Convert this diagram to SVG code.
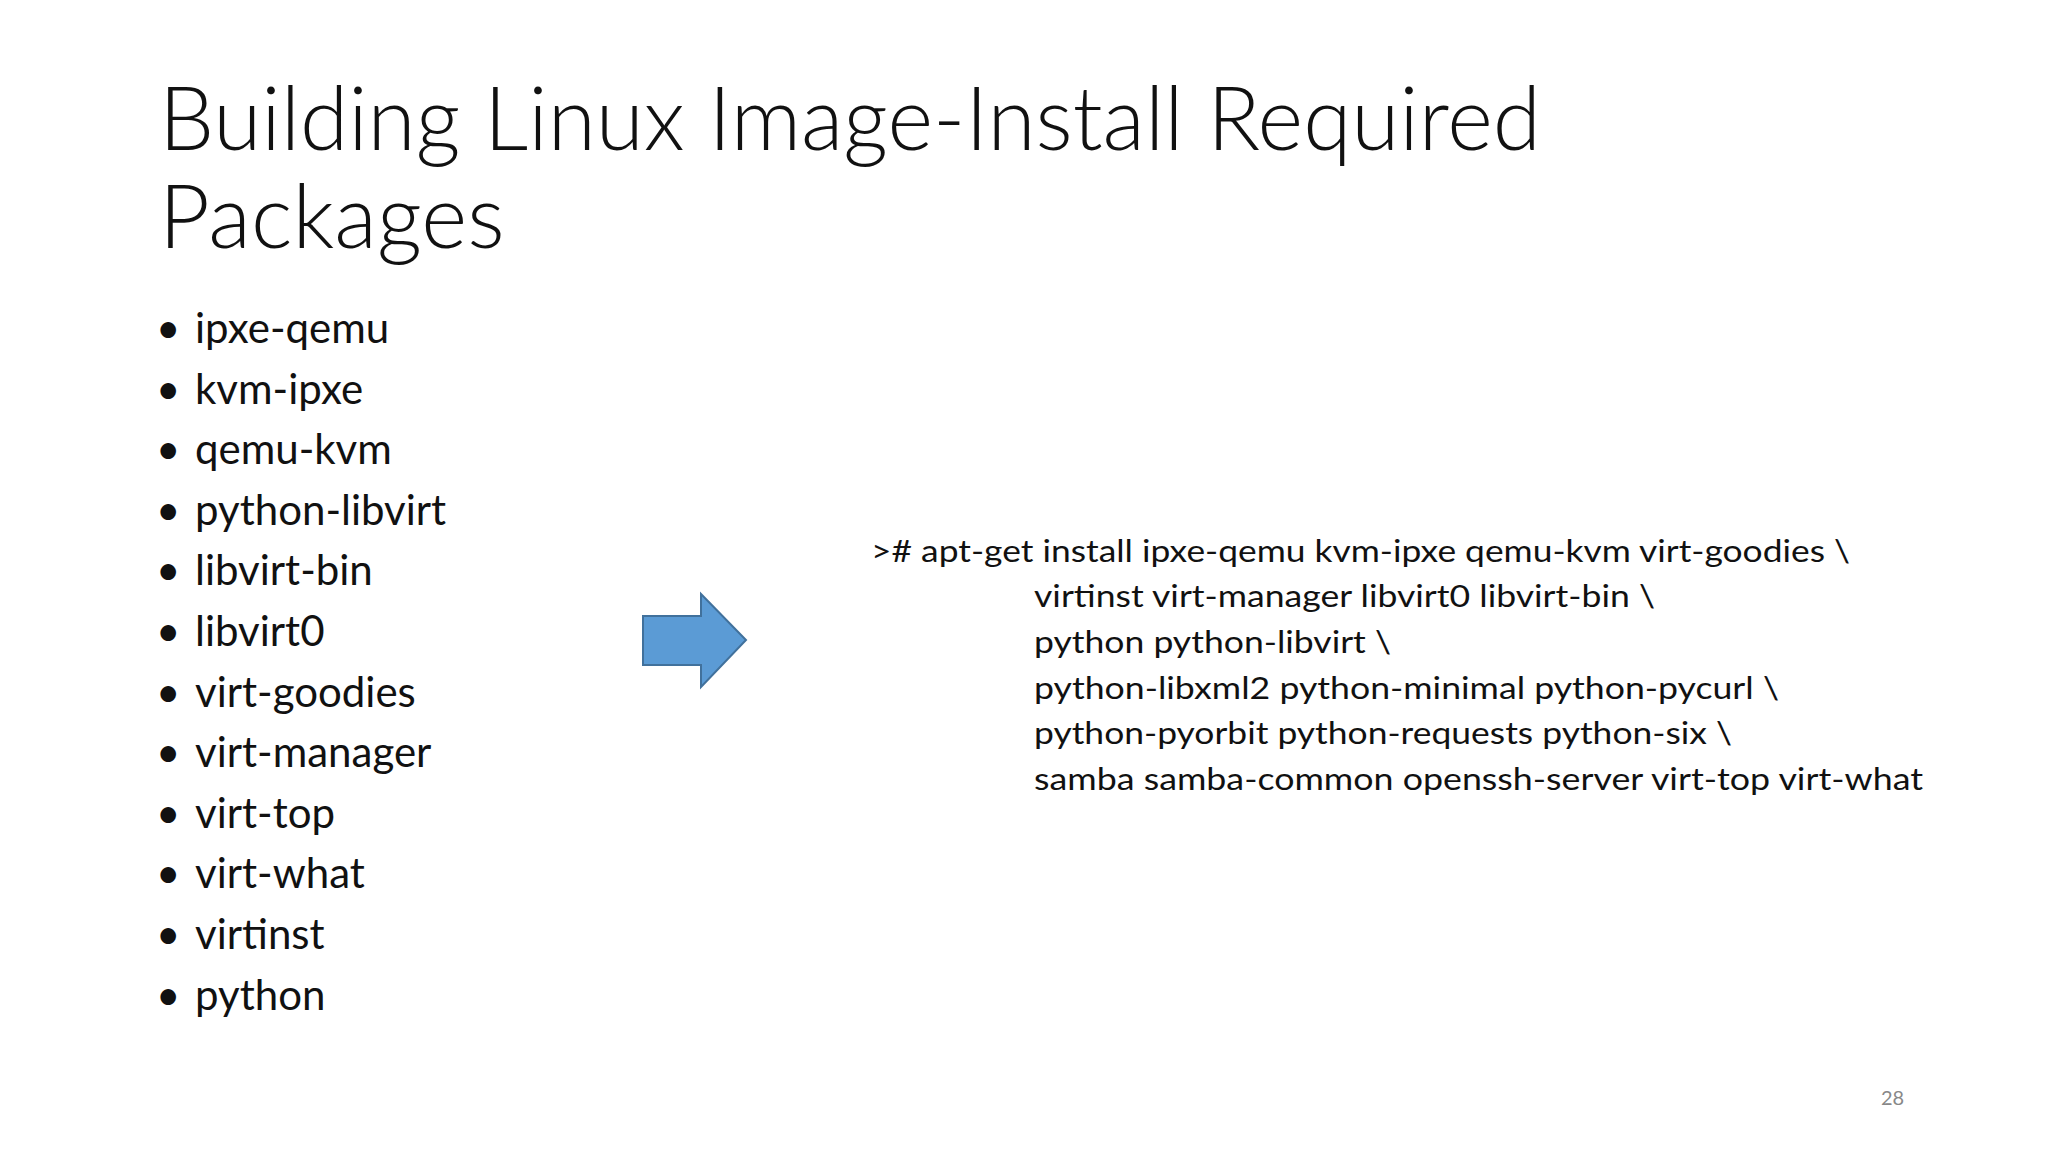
<svg xmlns="http://www.w3.org/2000/svg" width="2048" height="1152" viewBox="0 0 2048 1152">
<style>
text{font-family:Lato,"Open Sans","Liberation Sans",sans-serif;fill:#111}
.t{font-size:88px;font-weight:300}
.b{font-size:42px}
.c{font-size:31px}
</style>
<rect width="2048" height="1152" fill="#fff"/>
<g id="title">
<text class="t" x="159" y="150" textLength="1382" lengthAdjust="spacingAndGlyphs">Building Linux Image-Install Required</text>
<text class="t" x="159" y="248">Packages</text>
</g>
<g id="list" class="b">
<text x="156" y="343">•</text><text x="195" y="343">ipxe-qemu</text>
<text x="156" y="404">•</text><text x="195" y="404">kvm-ipxe</text>
<text x="156" y="464">•</text><text x="195" y="464">qemu-kvm</text>
<text x="156" y="525">•</text><text x="195" y="525">python-libvirt</text>
<text x="156" y="585">•</text><text x="195" y="585">libvirt-bin</text>
<text x="156" y="646">•</text><text x="195" y="646">libvirt0</text>
<text x="156" y="707">•</text><text x="195" y="707">virt-goodies</text>
<text x="156" y="767">•</text><text x="195" y="767">virt-manager</text>
<text x="156" y="828">•</text><text x="195" y="828">virt-top</text>
<text x="156" y="888">•</text><text x="195" y="888">virt-what</text>
<text x="156" y="949">•</text><text x="195" y="949">virtinst</text>
<text x="156" y="1010">•</text><text x="195" y="1010">python</text>
</g>
<g id="arrow">
<polygon points="643,616 701,616 701,594 746,640 701,687 701,665 643,665" fill="#5b9bd5" stroke="#41719c" stroke-width="2"/>
</g>
<g id="command" class="c">
<text x="871" y="562" textLength="979" lengthAdjust="spacingAndGlyphs">&gt;# apt-get install ipxe-qemu kvm-ipxe qemu-kvm virt-goodies \</text>
<text x="1034" y="607" textLength="621" lengthAdjust="spacingAndGlyphs">virtinst virt-manager libvirt0 libvirt-bin \</text>
<text x="1034" y="653" textLength="357" lengthAdjust="spacingAndGlyphs">python python-libvirt \</text>
<text x="1034" y="699" textLength="745" lengthAdjust="spacingAndGlyphs">python-libxml2 python-minimal python-pycurl \</text>
<text x="1034" y="744" textLength="698" lengthAdjust="spacingAndGlyphs">python-pyorbit python-requests python-six \</text>
<text x="1034" y="790" textLength="889" lengthAdjust="spacingAndGlyphs">samba samba-common openssh-server virt-top virt-what</text>
</g>
<text x="1881" y="1105" font-size="20" style="fill:#888">28</text>
</svg>
